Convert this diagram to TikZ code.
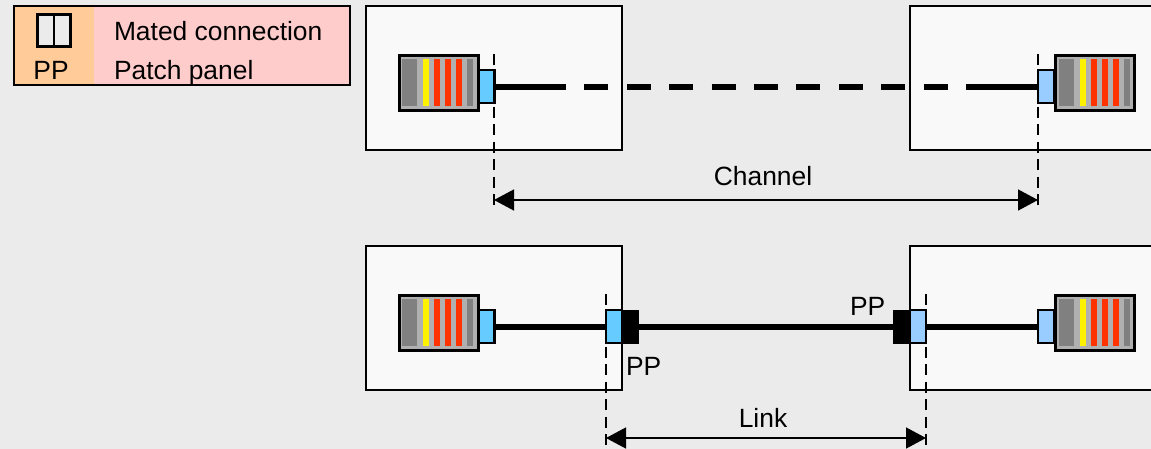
\documentclass[tikz,border=0pt]{standalone}
\usepackage{fontspec}
\setmainfont{Liberation Sans}
\usetikzlibrary{arrows.meta}
\definecolor{bg}{HTML}{EBEBEB}
\definecolor{boxfill}{HTML}{F9F9F9}
\definecolor{plug}{HTML}{B0B0B0}
\definecolor{strip}{HTML}{808080}
\definecolor{pinred}{HTML}{FF3300}
\definecolor{blueA}{HTML}{66CCFF}
\definecolor{blueB}{HTML}{99CCFF}
\definecolor{legL}{HTML}{FFCC99}
\definecolor{legR}{HTML}{FFCCCC}
\tikzset{
  rr/.style={rectangle,minimum width=0pt,minimum height=0pt,inner sep=0pt,outer sep=0pt},
  host/.style={rr,draw=black,line width=1.5pt,fill=boxfill},
  plugbox/.style={rr,draw=black,line width=3pt,fill=plug,minimum width=79pt,minimum height=55pt},
  jack/.style={rr,draw=black,line width=2.2pt,minimum width=16pt,minimum height=33pt},
  ppblock/.style={rr,fill=black,minimum width=17pt,minimum height=34pt},
  fibre/.style={line width=6pt,black},
  guide/.style={line width=1.5pt,black,dash pattern=on 11pt off 6.5pt},
  span/.style={line width=1.4pt,black,{Triangle[length=20pt,width=21pt]}-{Triangle[length=20pt,width=21pt]}},
  lab/.style={rr,font=\fontsize{26.4}{30}\selectfont},
  pin/.style={rr,minimum height=47pt}
}
\newcommand{\stripset}[2]{% #1 = x of first strip, #2 = centre y
  \node[pin,fill=strip,minimum width=15pt] at (#1+7.5,#2) {};
  \node[pin,fill=yellow,minimum width=6pt] at (#1+24,#2) {};
  \node[pin,fill=pinred,minimum width=6pt] at (#1+35,#2) {};
  \node[pin,fill=pinred,minimum width=6pt] at (#1+46,#2) {};
  \node[pin,fill=pinred,minimum width=6pt] at (#1+57,#2) {};
  \node[pin,fill=strip,minimum width=6pt] at (#1+68,#2) {};
}
\begin{document}
\begin{tikzpicture}[x=1pt,y=-1pt]
\useasboundingbox (0,0) rectangle (1151,448);
\fill[bg] (-2,-2) rectangle (1153,450);
% legend
\fill[legL] (14,6) rectangle (94,85);
\fill[legR] (94,6) rectangle (350,85);
\node[rr,draw=black,line width=1.5pt,minimum width=336pt,minimum height=79pt] (legend) at (182,45.5) {};
\node[rr,draw=black,line width=2.2pt,fill=bg,minimum width=16.5pt,minimum height=32pt] (icA) at (45.7,30.5) {};
\node[rr,draw=black,line width=2.2pt,fill=bg,minimum width=16.5pt,minimum height=32pt] (icB) at (62.2,30.5) {};
\node[lab,anchor=base] (legPP) at (51,79.5) {PP};
\node[lab,anchor=base west] (legM) at (114,40) {Mated connection};
\node[lab,anchor=base west] (legP) at (114,79.5) {Patch panel};
% hosts
\node[host,minimum width=256pt,minimum height=144pt] (tl) at (494,78) {};
\node[host,minimum width=256pt,minimum height=144pt] (bl) at (494,318) {};
\draw[line width=1.5pt,fill=boxfill] (1153,6) -- (910,6) -- (910,150) -- (1153,150);
\draw[line width=1.5pt,fill=boxfill] (1153,246) -- (910,246) -- (910,390) -- (1153,390);
% fibres
\coordinate (tlS) at (542,86.5);
\coordinate (trS) at (990,86.5);
\node[jack,fill=blueA] (j1) at (486.5,86.5) {};
\node[jack,fill=blueB] (j2) at (1046,86.5) {};
\node[jack,fill=blueA] (j3) at (486.5,326.5) {};
\node[jack,fill=blueB] (j4) at (1046,326.5) {};
\node[jack,fill=blueA] (p1) at (614,326.5) {};
\node[jack,fill=blueB] (p2) at (918,326.5) {};
\node[ppblock] (b1) at (630.5,326.5) {};
\node[ppblock] (b2) at (901.5,326.5) {};
\draw[fibre] (j1.east) -- (tlS);
\draw[fibre] (trS) -- (j2.west);
\draw[fibre,dash pattern=on 24pt off 18.4pt] (tlS) -- (trS);
\draw[fibre] (j3.east) -- (p1.west);
\draw[fibre] (b1.east) -- (b2.west);
\draw[fibre] (p2.east) -- (j4.west);
% plugs
\node[plugbox] (c1) at (438.5,82.5) {};
\node[plugbox] (c2) at (1094.5,82.5) {};
\node[plugbox] (c3) at (438.5,322.5) {};
\node[plugbox] (c4) at (1094.5,322.5) {};
\stripset{402}{82.5}
\stripset{402}{322.5}
\stripset{1059}{82.5}
\stripset{1059}{322.5}
% guides
\coordinate (g1t) at (494,54); \coordinate (g1b) at (494,211);
\coordinate (g2t) at (1038,54); \coordinate (g2b) at (1038,211);
\coordinate (g3t) at (606,294); \coordinate (g3b) at (606,448);
\coordinate (g4t) at (926,294); \coordinate (g4b) at (926,448);
\draw[guide] (g1t) -- (g1b);
\draw[guide] (g2t) -- (g2b);
\draw[guide] (g3t) -- (g3b);
\draw[guide] (g4t) -- (g4b);
\coordinate (a1) at (494,200); \coordinate (a2) at (1038,200);
\coordinate (a3) at (606,438); \coordinate (a4) at (926,438);
\draw[span] (a1) -- (a2);
\draw[span] (a3) -- (a4);
\node[lab,anchor=base] (chan) at (763,185) {Channel};
\node[lab,anchor=base] (link) at (763,427) {Link};
\node[lab,anchor=base west] (pp1) at (626,375) {PP};
\node[lab,anchor=base west] (pp2) at (850,315) {PP};
\end{tikzpicture}
\end{document}
